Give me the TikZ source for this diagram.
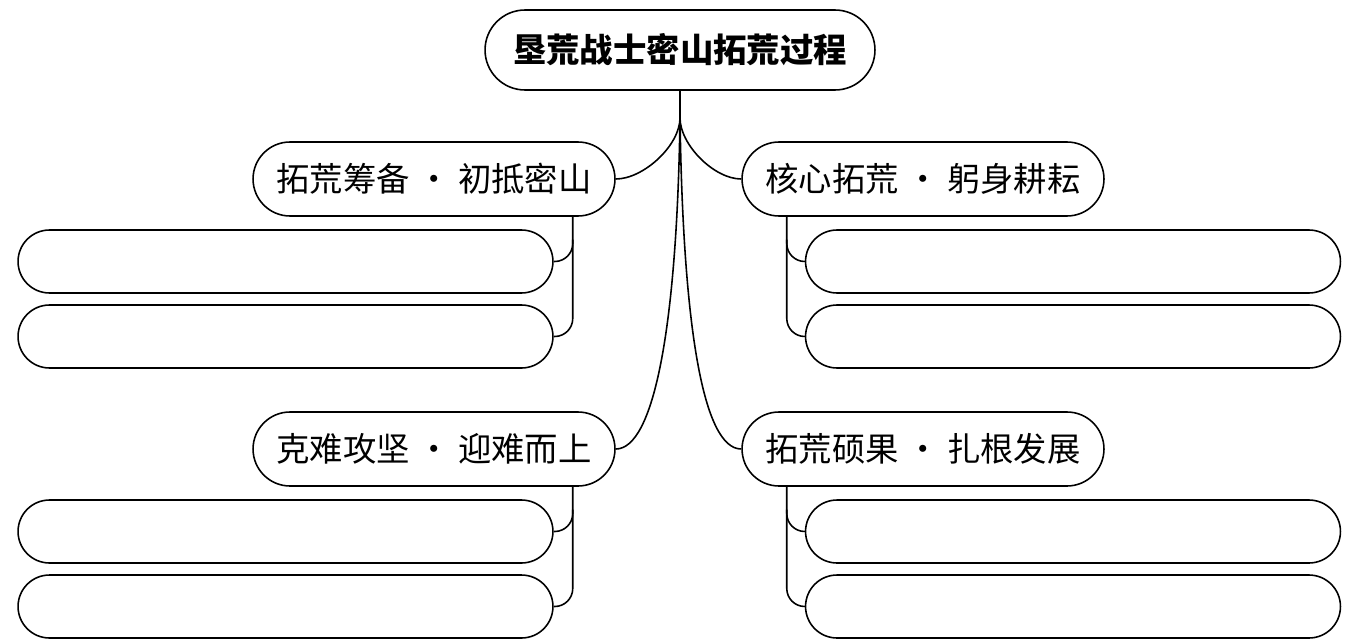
\documentclass[tikz,border=0pt]{standalone}
\usepackage{fontspec}
\newfontfamily\cjk{Noto Sans CJK SC}
\usetikzlibrary{shapes.misc, calc, positioning}

\tikzset{
    pill/.style={rounded rectangle, draw, line width=0.9pt, inner sep=0pt},
    rootbox/.style={pill, minimum width=7.8cm, minimum height=1.6cm,
        font=\cjk\bfseries\fontsize{19}{23}\selectfont},
    stagebox/.style={pill, minimum width=7.24cm, minimum height=1.48cm,
        font=\cjk\fontsize{19}{23}\selectfont},
    blankbox/.style={pill, minimum width=10.7cm, minimum height=1.26cm},
    link/.style={line width=0.9pt},
}

\begin{document}
\begin{tikzpicture}[x=0.02cm,y=-0.02cm]
    \useasboundingbox (0,0) rectangle (1361,642);

    \node[rootbox]  (root) at (680,50) {垦荒战士密山拓荒过程};
    \node[stagebox] (s1) at (434,179) {拓荒筹备 · 初抵密山};
    \node[stagebox] (s2) at (923,179) {核心拓荒 · 躬身耕耘};
    \node[stagebox] (s3) at (434,449) {克难攻坚 · 迎难而上};
    \node[stagebox] (s4) at (923,449) {拓荒硕果 · 扎根发展};

    % empty answer boxes
    \node[blankbox] (l1) at (285.5,261.5) {};
    \node[blankbox] (l2) at (285.5,336.5) {};
    \node[blankbox] (l3) at (285.5,531.5) {};
    \node[blankbox] (l4) at (285.5,606.5) {};
    \node[blankbox] (r1) at (1073,261.5) {};
    \node[blankbox] (r2) at (1073,336.5) {};
    \node[blankbox] (r3) at (1073,531.5) {};
    \node[blankbox] (r4) at (1073,606.5) {};

    % root to stages
    \coordinate (fork) at ($(root.south)+(0,27)$);
    \draw[link] (root.south) -- (fork);
    \draw[link] (fork) to[out=-90,in=0,looseness=0.8] (s1.east);
    \draw[link] (fork) to[out=-90,in=180,looseness=0.8] (s2.west);
    \draw[link] (fork) .. controls ($(fork)+(-3,210)$) and ($(s3.east)+(38,0)$) .. (s3.east);
    \draw[link] (fork) .. controls ($(fork)+(3,210)$) and ($(s4.west)+(-38,0)$) .. (s4.west);

    % stages to boxes
    \foreach \s/\a/\b in {s1/l1/l2, s3/l3/l4} {
        \coordinate (top) at ($(\a.east)+(19,0)$);
        \draw[link, rounded corners=18*0.02cm] (\s.south -| top) |- (\b.east);
        \draw[link, rounded corners=18*0.02cm] ($(\a.east)+(19,-22)$) |- (\a.east);
    }
    \foreach \s/\a/\b in {s2/r1/r2, s4/r3/r4} {
        \coordinate (top) at ($(\a.west)+(-18,0)$);
        \draw[link, rounded corners=18*0.02cm] (\s.south -| top) |- (\b.west);
        \draw[link, rounded corners=18*0.02cm] ($(\a.west)+(-18,-22)$) |- (\a.west);
    }
\end{tikzpicture}
\end{document}
